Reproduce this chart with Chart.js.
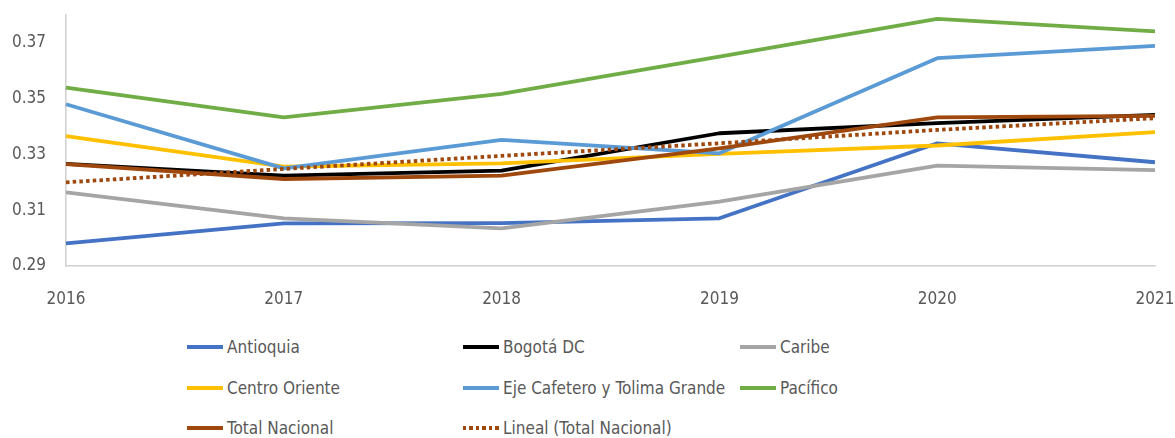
<!DOCTYPE html>
<html>
<head>
<meta charset="utf-8">
<script src="https://cdn.jsdelivr.net/npm/chart.js@4/dist/chart.umd.min.js"></script>
<style>
  html, body { margin: 0; padding: 0; background: #ffffff; }
  #wrap { position: relative; width: 1175px; height: 438px; overflow: hidden; }
  #c { position: absolute; left: 0; top: 0; }
  .lg { position: absolute; display: flex; align-items: center; white-space: nowrap;
        font-family: "DejaVu Sans Condensed", "DejaVu Sans", sans-serif;
        font-size: 17px; color: #595959; height: 24px; }
  .lg .mk { display: inline-block; width: 36px; height: 4px; margin-right: 4px; }
</style>
</head>
<body>
<div id="wrap">
  <canvas id="c" width="1175" height="310"></canvas>
  <div id="legend"></div>
</div>
<script>
// ---- data ----
const years = ['2016', '2017', '2018', '2019', '2020', '2021'];
const yTicks = [0.29, 0.31, 0.33, 0.35, 0.37];
const antioquia     = [0.2981, 0.3053, 0.3054, 0.3071, 0.3340, 0.3272];
const bogota        = [0.3266, 0.3224, 0.3242, 0.3376, 0.3412, 0.3442];
const caribe        = [0.3164, 0.3071, 0.3035, 0.3131, 0.3260, 0.3244];
const centroOriente = [0.3366, 0.3256, 0.3268, 0.3302, 0.3332, 0.3380];
const ejeCafetero   = [0.3480, 0.3250, 0.3352, 0.3304, 0.3645, 0.3689];
const pacifico      = [0.3540, 0.3433, 0.3517, 0.3651, 0.3786, 0.3741];
const totalNacional = [0.3265, 0.3212, 0.3224, 0.3322, 0.3433, 0.3438];
const linealTotal   = [0.3200, 0.3248, 0.3295, 0.3340, 0.3388, 0.3430];

const seriesNames = ['Antioquia', 'Bogotá DC', 'Caribe', 'Centro Oriente',
  'Eje Cafetero y Tolima Grande', 'Pacífico', 'Total Nacional', 'Lineal (Total Nacional)'];
const seriesData = [antioquia, bogota, caribe, centroOriente, ejeCafetero, pacifico, totalNacional, linealTotal];
const seriesColors = ['#4472C4', '#000000', '#A5A5A5', '#FFC000', '#5B9BD5', '#70AD47', '#9E480E', '#9E480E'];
const seriesDotted = [false, false, false, false, false, false, false, true];

const FONT = "'DejaVu Sans Condensed', 'DejaVu Sans', sans-serif";
const N = seriesNames.length;

const datasets = seriesNames.map((name, i) => ({
  label: name,
  data: seriesData[i],
  borderColor: seriesColors[i],
  backgroundColor: seriesColors[i],
  borderWidth: 3.8,
  borderDash: seriesDotted[i] ? [3.5, 3.2] : [],
  borderCapStyle: 'butt',
  borderJoinStyle: 'round',
  pointRadius: 0,
  pointHoverRadius: 0,
  tension: 0,
  fill: false,
  order: N - i
}));

new Chart(document.getElementById('c'), {
  type: 'line',
  data: { labels: years, datasets },
  options: {
    responsive: false,
    animation: false,
    devicePixelRatio: 1,
    layout: { padding: { top: 15, right: 20, left: 0, bottom: 0 } },
    plugins: { legend: { display: false }, tooltip: { enabled: false } },
    scales: {
      x: {
        offset: false,
        grid: { display: false, drawTicks: false },
        border: { display: true, color: '#d0d0d0', width: 1.5 },
        ticks: { color: '#595959', font: { family: FONT, size: 17 }, padding: 23, maxRotation: 0 },
        afterFit: s => { s.height = 44; s.paddingLeft = 0; s.paddingRight = 0; }
      },
      y: {
        min: 0.29,
        max: 0.38,
        grid: { display: false, drawTicks: false },
        border: { display: true, color: '#d0d0d0', width: 1.5 },
        ticks: { color: '#595959', font: { family: FONT, size: 17 }, padding: 20,
                 callback: v => Number(v).toFixed(2) },
        afterBuildTicks: s => { s.ticks = yTicks.map(v => ({ value: v })); },
        afterFit: s => { s.width = 66; s.paddingTop = 0; s.paddingBottom = 0; }
      }
    }
  }
});

// ---- HTML legend, 3 columns x 3 rows ----
const colX = [187, 463, 740];
const rowY = [347, 388, 428];
const legend = document.getElementById('legend');
seriesNames.forEach((name, i) => {
  const el = document.createElement('div');
  el.className = 'lg';
  el.style.left = colX[i % 3] + 'px';
  el.style.top = (rowY[Math.floor(i / 3)] - 12) + 'px';
  const mk = document.createElement('span');
  mk.className = 'mk';
  if (seriesDotted[i]) {
    mk.style.background = 'repeating-linear-gradient(to right, ' + seriesColors[i] + ' 0 3.5px, transparent 3.5px 6.5px)';
  } else {
    mk.style.background = seriesColors[i];
  }
  const tx = document.createElement('span');
  tx.textContent = name;
  el.appendChild(mk);
  el.appendChild(tx);
  legend.appendChild(el);
});
</script>
</body>
</html>
